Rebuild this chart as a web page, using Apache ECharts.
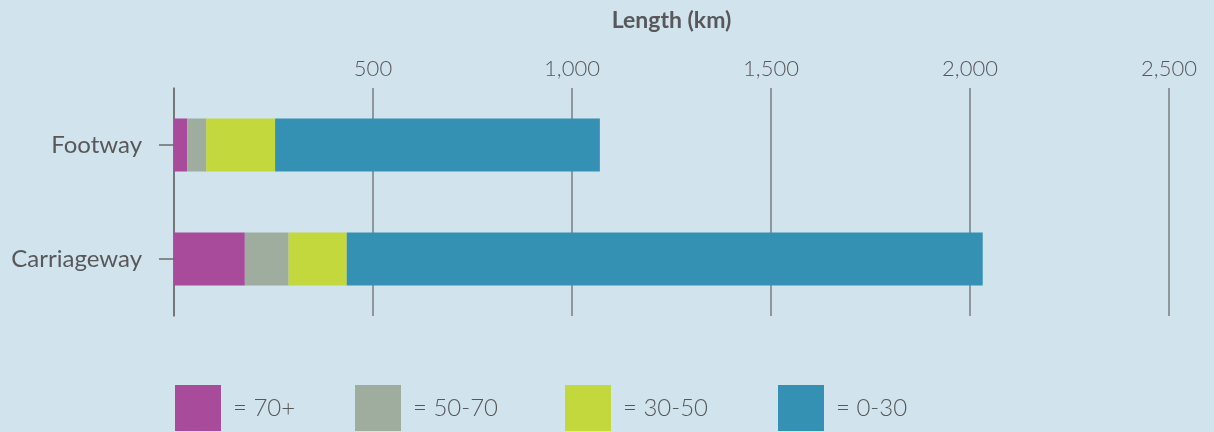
<!DOCTYPE html>
<html><head><meta charset="utf-8">
<script src="https://cdn.jsdelivr.net/npm/echarts@6/dist/echarts.min.js"></script>
<style>html,body{margin:0;padding:0;background:#d1e3ed;}#c{width:1214px;height:432px;}</style>
</head><body><div id="c"></div>
<script>
const categories = ['Footway', 'Carriageway'];
const seriesNames = ['70+', '50-70', '30-50', '0-30'];
const v70plus = [33, 178];
const v50to70 = [48, 110];
const v30to50 = [173, 146];
const v0to30 = [816, 1598];
const xTicks = [0, 500, 1000, 1500, 2000, 2500];

const colors = ['#a84b9a', '#9fad9f', '#c3d83c', '#3591b3'];
const values = [v70plus, v50to70, v30to50, v0to30];
const textColor = '#58585a';
const font = 'Lato, "Open Sans", sans-serif';

const chart = echarts.init(document.getElementById('c'));
const legendLefts = [175, 355, 565, 778];
chart.setOption({
  backgroundColor: '#d1e3ed',
  animation: false,
  textStyle: { fontFamily: font },
  grid: { left: 174, right: 45, top: 88, height: 228 },
  xAxis: {
    type: 'value', position: 'top', min: xTicks[0], max: xTicks[xTicks.length - 1], interval: 500,
    name: 'Length (km)', nameLocation: 'middle', nameGap: 56,
    nameTextStyle: { fontSize: 23, fontWeight: 'bold', color: textColor, fontFamily: font },
    axisLine: { show: false }, axisTick: { show: false },
    axisLabel: {
      fontSize: 22, color: textColor, margin: 8, fontFamily: font, fontWeight: 300,
      formatter: v => v === 0 ? '' : v.toLocaleString('en-US')
    },
    splitLine: { show: true, lineStyle: { color: '#787c80', width: 1.5 } }
  },
  yAxis: {
    type: 'category', inverse: true, data: categories,
    axisLine: { show: true, lineStyle: { color: '#6a6c6e', width: 1.5 } },
    axisTick: { show: true, length: 15, alignWithLabel: true, lineStyle: { color: '#6a6c6e', width: 1.5 } },
    axisLabel: { fontSize: 24, color: textColor, margin: 32, fontFamily: font }
  },
  legend: seriesNames.map((n, i) => ({
    data: [n], left: legendLefts[i], top: 385, itemWidth: 46, itemHeight: 46,
    icon: 'rect', selectedMode: false, padding: 0,
    formatter: '= {name}',
    textStyle: { fontSize: 24, color: textColor, fontFamily: font, fontWeight: 300, padding: [0, 0, 0, 7] }
  })),
  series: seriesNames.map((n, i) => ({
    name: n, type: 'bar', stack: 'total', data: values[i], barWidth: 53,
    itemStyle: { color: colors[i] }
  }))
});
</script></body></html>
